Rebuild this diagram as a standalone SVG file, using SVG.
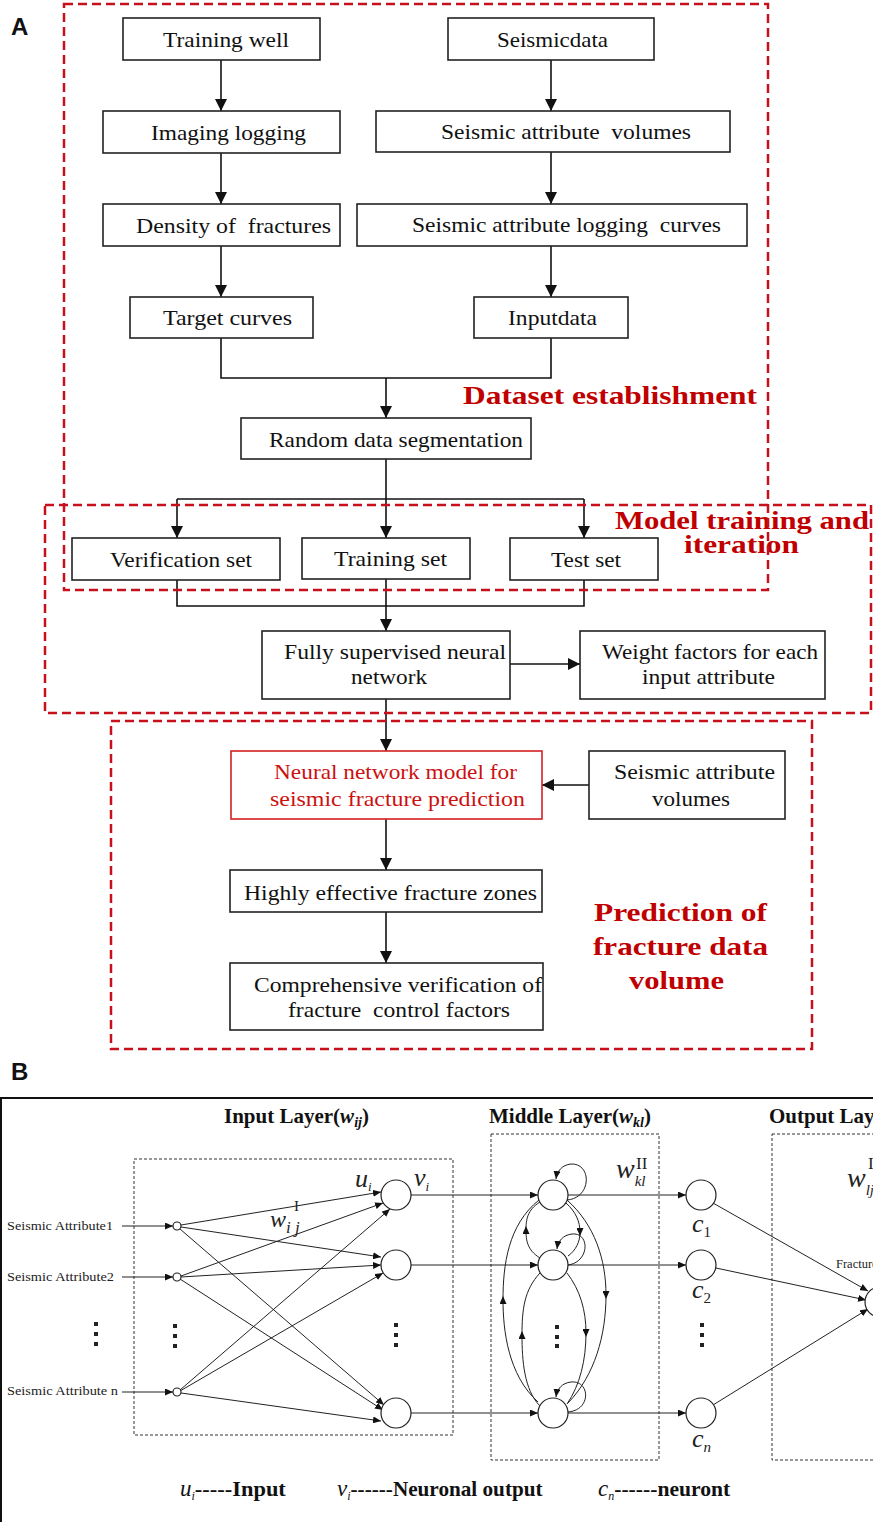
<svg xmlns="http://www.w3.org/2000/svg" width="873" height="1522" viewBox="0 0 873 1522">
<style>
.bx{fill:#fff;stroke:#222;stroke-width:1.6}
.t{font-family:"Liberation Serif","Times New Roman",serif;font-size:22px;fill:#111}
.t2{font-family:"Liberation Serif","Times New Roman",serif;font-size:21px;fill:#111}
.rd{fill:none;stroke:#c8101c;stroke-width:2.5;stroke-dasharray:9 5}
.rl{font-family:"Liberation Serif","Times New Roman",serif;font-weight:bold;font-size:26px;fill:#c00000}
.cn{fill:none;stroke:#111;stroke-width:1.6}
.cb{fill:none;stroke:#222;stroke-width:1}
.db{fill:none;stroke:#333;stroke-width:1;stroke-dasharray:3 2}
.nd{fill:#fff;stroke:#222;stroke-width:1.2}
.lbl{font-family:"Liberation Serif","Times New Roman",serif;font-size:13.5px;fill:#222}
.it{font-family:"Liberation Serif","Times New Roman",serif;font-style:italic;fill:#222}
.hd{font-family:"Liberation Serif","Times New Roman",serif;font-weight:bold;font-size:21px;fill:#111}
.lg{font-family:"Liberation Serif","Times New Roman",serif;font-weight:bold;font-size:21px;fill:#111}
.pl{font-family:"Liberation Sans",Arial,sans-serif;font-weight:bold;font-size:24px;fill:#111}
.dot{fill:#222}
</style>
<defs>
<marker id="ah" markerUnits="userSpaceOnUse" markerWidth="12" markerHeight="12" refX="12" refY="6" orient="auto"><path d="M0,0 L12,6 L0,12 z" fill="#111"/></marker>
<marker id="as" markerUnits="userSpaceOnUse" markerWidth="8" markerHeight="7" refX="8" refY="3.5" orient="auto"><path d="M0,0 L8,3.5 L0,7 z" fill="#111"/></marker>
<marker id="am" markerUnits="userSpaceOnUse" markerWidth="8" markerHeight="7" refX="4" refY="3.5" orient="auto"><path d="M0,0 L8,3.5 L0,7 z" fill="#111"/></marker>
</defs>

<text class="pl" x="11" y="35">A</text>
<text class="pl" x="11" y="1080">B</text>

<!-- Part A connectors -->
<g id="connectors-a" class="cn">
<line x1="221" y1="60" x2="221" y2="111" marker-end="url(#ah)"/>
<line x1="221" y1="153" x2="221" y2="204" marker-end="url(#ah)"/>
<line x1="221" y1="246" x2="221" y2="297" marker-end="url(#ah)"/>
<line x1="551" y1="60" x2="551" y2="111" marker-end="url(#ah)"/>
<line x1="551" y1="152" x2="551" y2="204" marker-end="url(#ah)"/>
<line x1="551" y1="246" x2="551" y2="297" marker-end="url(#ah)"/>
<polyline points="221,338 221,378 551,378 551,338"/>
<line x1="386" y1="378" x2="386" y2="418" marker-end="url(#ah)"/>
<line x1="386" y1="459" x2="386" y2="538" marker-end="url(#ah)"/>
<line x1="177" y1="499" x2="584" y2="499"/>
<line x1="177" y1="499" x2="177" y2="538" marker-end="url(#ah)"/>
<line x1="584" y1="499" x2="584" y2="538" marker-end="url(#ah)"/>
<polyline points="177,580 177,606 584,606 584,580"/>
<line x1="386" y1="579" x2="386" y2="631" marker-end="url(#ah)"/>
<line x1="510" y1="664" x2="580" y2="664" marker-end="url(#ah)"/>
<line x1="386" y1="699" x2="386" y2="751" marker-end="url(#ah)"/>
<line x1="589" y1="785" x2="542" y2="785" marker-end="url(#ah)"/>
<line x1="386" y1="819" x2="386" y2="870" marker-end="url(#ah)"/>
<line x1="386" y1="912" x2="386" y2="963" marker-end="url(#ah)"/>
</g>

<g id="n-training-well"><rect class="bx" x="123" y="18" width="197" height="42"/><text class="t" x="163" y="47" textLength="126" lengthAdjust="spacingAndGlyphs">Training well</text></g>
<g id="n-imaging-logging"><rect class="bx" x="103" y="111" width="237" height="42"/><text class="t" x="151" y="140" textLength="155" lengthAdjust="spacingAndGlyphs">Imaging logging</text></g>
<g id="n-density"><rect class="bx" x="103" y="204" width="237" height="42"/><text class="t" x="136" y="233" textLength="195" lengthAdjust="spacingAndGlyphs" xml:space="preserve">Density of  fractures</text></g>
<g id="n-target"><rect class="bx" x="130" y="297" width="183" height="41"/><text class="t" x="163" y="325" textLength="129" lengthAdjust="spacingAndGlyphs">Target curves</text></g>
<g id="n-seismicdata"><rect class="bx" x="448" y="18" width="206" height="42"/><text class="t" x="497" y="47" textLength="111" lengthAdjust="spacingAndGlyphs">Seismicdata</text></g>
<g id="n-sav"><rect class="bx" x="376" y="111" width="354" height="41"/><text class="t" x="441" y="139" textLength="250" lengthAdjust="spacingAndGlyphs" xml:space="preserve">Seismic attribute  volumes</text></g>
<g id="n-salc"><rect class="bx" x="357" y="204" width="390" height="42"/><text class="t" x="412" y="232" textLength="309" lengthAdjust="spacingAndGlyphs" xml:space="preserve">Seismic attribute logging  curves</text></g>
<g id="n-inputdata"><rect class="bx" x="474" y="297" width="154" height="41"/><text class="t" x="508" y="325" textLength="89" lengthAdjust="spacingAndGlyphs">Inputdata</text></g>
<g id="n-random"><rect class="bx" x="241" y="418" width="290" height="41"/><text class="t" x="269" y="447" textLength="254" lengthAdjust="spacingAndGlyphs">Random data segmentation</text></g>
<g id="n-verification"><rect class="bx" x="72" y="538" width="208" height="42"/><text class="t" x="110" y="567" textLength="142" lengthAdjust="spacingAndGlyphs">Verification set</text></g>
<g id="n-training-set"><rect class="bx" x="302" y="538" width="168" height="41"/><text class="t" x="334" y="566" textLength="113" lengthAdjust="spacingAndGlyphs">Training set</text></g>
<g id="n-test-set"><rect class="bx" x="510" y="538" width="148" height="42"/><text class="t" x="551" y="567" textLength="70" lengthAdjust="spacingAndGlyphs">Test set</text></g>
<g id="n-fully"><rect class="bx" x="262" y="631" width="248" height="68"/><text class="t" x="284" y="659" textLength="222" lengthAdjust="spacingAndGlyphs">Fully supervised neural</text><text class="t" x="351" y="684" textLength="76" lengthAdjust="spacingAndGlyphs">network</text></g>
<g id="n-weight"><rect class="bx" x="580" y="631" width="245" height="68"/><text class="t" x="602" y="659" textLength="216" lengthAdjust="spacingAndGlyphs">Weight factors for each</text><text class="t" x="642" y="684" textLength="133" lengthAdjust="spacingAndGlyphs">input attribute</text></g>
<g id="n-nn-model"><rect x="231" y="751" width="311" height="68" fill="#fff" stroke="#d42020" stroke-width="1.6"/><text class="t2" x="274" y="779" textLength="243" lengthAdjust="spacingAndGlyphs" style="fill:#cc1111">Neural network model for</text><text class="t2" x="270" y="806" textLength="255" lengthAdjust="spacingAndGlyphs" style="fill:#cc1111">seismic fracture prediction</text></g>
<g id="n-sav2"><rect class="bx" x="589" y="751" width="196" height="68"/><text class="t2" x="614" y="779" textLength="161" lengthAdjust="spacingAndGlyphs">Seismic attribute</text><text class="t2" x="652" y="806" textLength="78" lengthAdjust="spacingAndGlyphs">volumes</text></g>
<g id="n-highly"><rect class="bx" x="230" y="870" width="312" height="42"/><text class="t2" x="244" y="900" textLength="293" lengthAdjust="spacingAndGlyphs">Highly effective fracture zones</text></g>
<g id="n-comprehensive"><rect class="bx" x="230" y="963" width="313" height="67"/><text class="t2" x="254" y="992" textLength="288" lengthAdjust="spacingAndGlyphs">Comprehensive verification of</text><text class="t2" x="288" y="1017" textLength="222" lengthAdjust="spacingAndGlyphs" xml:space="preserve">fracture  control factors</text></g>

<g id="stage-labels">
<text class="rl" x="463" y="404" textLength="294" lengthAdjust="spacingAndGlyphs">Dataset establishment</text>
<text class="rl" x="615" y="529" textLength="254" lengthAdjust="spacingAndGlyphs">Model training and</text>
<text class="rl" x="684" y="553" textLength="115" lengthAdjust="spacingAndGlyphs">iteration</text>
<text class="rl" x="594" y="921" textLength="173" lengthAdjust="spacingAndGlyphs">Prediction of</text>
<text class="rl" x="593" y="955" textLength="175" lengthAdjust="spacingAndGlyphs">fracture data</text>
<text class="rl" x="629" y="989" textLength="95" lengthAdjust="spacingAndGlyphs">volume</text>
</g>

<g id="stage-boxes">
<rect class="rd" x="64" y="4" width="704" height="586"/>
<rect class="rd" x="45" y="505" width="826" height="208"/>
<rect class="rd" x="111" y="721" width="701" height="328"/>
</g>

<!-- Part B -->
<path d="M1,1522 V1098 H873" fill="none" stroke="#111" stroke-width="2"/>
<g id="layer-titles">
<text class="hd" x="224" y="1123">Input Layer(<tspan font-style="italic">w</tspan><tspan font-style="italic" font-size="14" dy="4">ij</tspan><tspan dy="-4">)</tspan></text>
<text class="hd" x="489" y="1123">Middle Layer(<tspan font-style="italic">w</tspan><tspan font-style="italic" font-size="14" dy="4">kl</tspan><tspan dy="-4">)</tspan></text>
<text class="hd" x="769" y="1123">Output Layer</text>
</g>
<g id="layer-boxes">
<rect class="db" x="134" y="1159" width="319" height="276"/>
<rect class="db" x="491" y="1134" width="168" height="326"/>
<rect class="db" x="772" y="1134" width="140" height="326"/>
</g>

<g id="input-labels">
<text class="lbl" x="7" y="1230" textLength="106" lengthAdjust="spacingAndGlyphs">Seismic Attribute1</text>
<text class="lbl" x="7" y="1281" textLength="107" lengthAdjust="spacingAndGlyphs">Seismic Attribute2</text>
<text class="lbl" x="7" y="1395" textLength="111" lengthAdjust="spacingAndGlyphs">Seismic Attribute n</text>
</g>

<g id="connectors-b" class="cb">
<line x1="122" y1="1226" x2="173" y2="1226" marker-end="url(#as)"/>
<line x1="122" y1="1277" x2="173" y2="1277" marker-end="url(#as)"/>
<line x1="122" y1="1392" x2="173" y2="1392" marker-end="url(#as)"/>
<line x1="181" y1="1225" x2="381" y2="1192" marker-end="url(#as)"/>
<line x1="181" y1="1227" x2="381" y2="1257" marker-end="url(#as)"/>
<line x1="180" y1="1229" x2="384" y2="1405" marker-end="url(#as)"/>
<line x1="181" y1="1276" x2="383" y2="1203" marker-end="url(#as)"/>
<line x1="181" y1="1277" x2="381" y2="1265" marker-end="url(#as)"/>
<line x1="180" y1="1279" x2="383" y2="1410" marker-end="url(#as)"/>
<line x1="180" y1="1390" x2="390" y2="1209" marker-end="url(#as)"/>
<line x1="180" y1="1391" x2="383" y2="1273" marker-end="url(#as)"/>
<line x1="181" y1="1393" x2="381" y2="1421" marker-end="url(#as)"/>
<line x1="411" y1="1195" x2="538" y2="1195" marker-end="url(#as)"/>
<line x1="411" y1="1265" x2="538" y2="1265" marker-end="url(#as)"/>
<line x1="411" y1="1413" x2="538" y2="1413" marker-end="url(#as)"/>
<line x1="568" y1="1195" x2="686" y2="1195" marker-end="url(#as)"/>
<line x1="568" y1="1265" x2="686" y2="1265" marker-end="url(#as)"/>
<line x1="568" y1="1413" x2="686" y2="1413" marker-end="url(#as)"/>
<line x1="713" y1="1203" x2="868" y2="1291" marker-end="url(#as)"/>
<line x1="716" y1="1268" x2="866" y2="1300" marker-end="url(#as)"/>
<line x1="713" y1="1405" x2="868" y2="1309" marker-end="url(#as)"/>
<path d="M540,1258 C527,1250 526,1240 526,1230 C526,1220 527,1210 540,1202" marker-mid="url(#am)"/>
<path d="M540,1406 C524,1390 522,1360 522,1335 C522,1310 524,1290 540,1273" marker-mid="url(#am)"/>
<path d="M538,1402 C508,1375 503,1330 503,1300 C503,1265 508,1225 539,1200" marker-mid="url(#am)"/>
<path d="M566,1203 C576,1212 580,1222 580,1232 C580,1242 576,1250 568,1256" marker-mid="url(#am)"/>
<path d="M567,1273 C580,1290 586,1310 586,1333 C586,1360 580,1385 567,1404" marker-mid="url(#am)"/>
<path d="M567,1200 C595,1225 606,1260 606,1295 C606,1335 595,1375 568,1403" marker-mid="url(#am)"/>
<path d="M567,1200 C592,1198 592,1163 571,1164 C562,1165 557,1171 556,1179" marker-end="url(#as)"/>
<path d="M568,1265 C590,1262 590,1232 572,1234 C563,1235 558,1241 557,1249" marker-end="url(#as)"/>
<path d="M568,1412 C592,1410 590,1380 571,1382 C562,1383 557,1389 556,1397" marker-end="url(#as)"/>
</g>

<g id="input-nodes">
<circle class="nd" cx="177" cy="1226" r="4"/>
<circle class="nd" cx="177" cy="1277" r="4"/>
<circle class="nd" cx="177" cy="1392" r="4"/>
</g>
<g id="hidden-neurons">
<circle class="nd" cx="396" cy="1195" r="15"/>
<circle class="nd" cx="396" cy="1265" r="15"/>
<circle class="nd" cx="396" cy="1413" r="15"/>
</g>
<g id="middle-neurons">
<circle class="nd" cx="553" cy="1195" r="15"/>
<circle class="nd" cx="553" cy="1265" r="15"/>
<circle class="nd" cx="553" cy="1413" r="15"/>
</g>
<g id="c-neurons">
<circle class="nd" cx="701" cy="1195" r="15"/>
<circle class="nd" cx="701" cy="1265" r="15"/>
<circle class="nd" cx="701" cy="1413" r="15"/>
</g>
<g id="output-neuron">
<circle class="nd" cx="880" cy="1302" r="15"/>
</g>

<g id="ellipses">
<rect class="dot" x="94" y="1322" width="4" height="4"/><rect class="dot" x="94" y="1332" width="4" height="4"/><rect class="dot" x="94" y="1342" width="4" height="4"/>
<rect class="dot" x="173" y="1324" width="4" height="4"/><rect class="dot" x="173" y="1334" width="4" height="4"/><rect class="dot" x="173" y="1344" width="4" height="4"/>
<rect class="dot" x="394" y="1323" width="4" height="4"/><rect class="dot" x="394" y="1333" width="4" height="4"/><rect class="dot" x="394" y="1343" width="4" height="4"/>
<rect class="dot" x="555" y="1325" width="4" height="4"/><rect class="dot" x="555" y="1335" width="4" height="4"/><rect class="dot" x="555" y="1344" width="4" height="4"/>
<rect class="dot" x="700" y="1323" width="4" height="4"/><rect class="dot" x="700" y="1333" width="4" height="4"/><rect class="dot" x="700" y="1343" width="4" height="4"/>
</g>

<g id="math-labels">
<text class="it" x="355" y="1187" font-size="26">u<tspan font-size="13" dy="4">i</tspan></text>
<text class="it" x="414" y="1186" font-size="26">v<tspan font-size="13" dy="5">i</tspan></text>
<text class="it" x="270" y="1227" font-size="24">w<tspan font-size="17" dy="6">i j</tspan></text>
<text x="294" y="1211" font-family="Liberation Serif,serif" font-size="15" fill="#222">I</text>
<text class="it" x="616" y="1178" font-size="28">w<tspan font-size="15" dy="8">kl</tspan></text>
<text x="636" y="1169" font-family="Liberation Serif,serif" font-size="17" fill="#222">II</text>
<text class="it" x="692" y="1232" font-size="26">c<tspan font-size="15" font-style="normal" dy="5">1</tspan></text>
<text class="it" x="692" y="1298" font-size="26">c<tspan font-size="15" font-style="normal" dy="5">2</tspan></text>
<text class="it" x="692" y="1447" font-size="26">c<tspan font-size="15" dy="5">n</tspan></text>
<text class="it" x="847" y="1187" font-size="28">w<tspan font-size="15" dy="8">lj</tspan></text>
<text x="868" y="1169" font-family="Liberation Serif,serif" font-size="17" fill="#222">III</text>
<text x="836" y="1268" font-family="Liberation Serif,serif" font-size="12.5" fill="#222">Fracture</text>
</g>

<g id="legend">
<text class="lg" x="180" y="1496"><tspan font-weight="normal" font-style="italic" font-size="23">u</tspan><tspan font-weight="normal" font-style="italic" font-size="12" dy="4">i</tspan><tspan dy="-4" textLength="91" lengthAdjust="spacingAndGlyphs">-----Input</tspan></text>
<text class="lg" x="337" y="1496"><tspan font-weight="normal" font-style="italic" font-size="23">v</tspan><tspan font-weight="normal" font-style="italic" font-size="12" dy="4">i</tspan><tspan dy="-4" textLength="192" lengthAdjust="spacingAndGlyphs">------Neuronal output</tspan></text>
<text class="lg" x="598" y="1496"><tspan font-weight="normal" font-style="italic" font-size="23">c</tspan><tspan font-weight="normal" font-style="italic" font-size="12" dy="4">n</tspan><tspan dy="-4" textLength="116" lengthAdjust="spacingAndGlyphs">------neuront</tspan></text>
</g>
</svg>
